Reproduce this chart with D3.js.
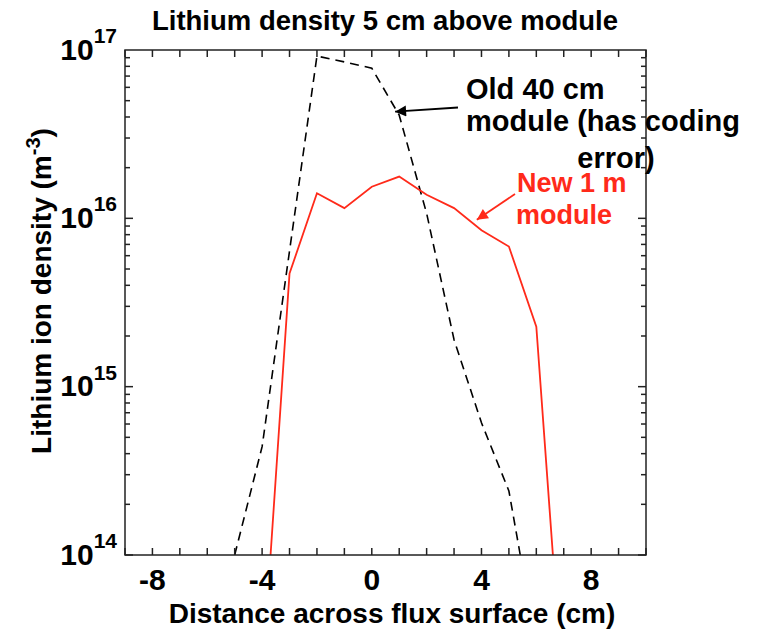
<!DOCTYPE html>
<html>
<head>
<meta charset="utf-8">
<script src="https://cdn.jsdelivr.net/npm/d3@7"></script>
<style>
  html, body { margin: 0; padding: 0; background: #fff; }
  svg { display: block; font-family: "Liberation Sans", Arial, Helvetica, sans-serif; font-weight: bold; }
</style>
</head>
<body>
<svg id="chart" width="772" height="633" viewBox="0 0 772 633"></svg>
<script>
// --- Data ---
const xOld = [-5, -4, -3, -2, -1, 0, 1, 2, 3, 4, 5, 6];
const densityOld = [1.0e14, 4.4e14, 6.4e15, 9.2e16, 8.5e16, 7.8e16, 4.1e16, 1.07e16, 1.9e15, 6.1e14, 2.4e14, 2.9e13];

const xNew = [-4, -3, -2, -1, 0, 1, 2, 3, 4, 5, 6, 7];
const densityNew = [1.8e13, 4.7e15, 1.41e16, 1.15e16, 1.54e16, 1.77e16, 1.38e16, 1.15e16, 8.5e15, 6.8e15, 2.27e15, 1.3e13];

const xTickLabels = [-8, -4, 0, 4, 8];
const yDecades = [14, 15, 16, 17];

const titleText = "Lithium density 5 cm above module";
const xTitle = "Distance across flux surface (cm)";

// --- Layout ---
const svg = d3.select("#chart");
const plot = { left: 125, right: 646, top: 50, bottom: 555 };
const red = "#ff2a1a";
const axisColor = "#222";

const x = d3.scaleLinear().domain([-9, 10]).range([plot.left, plot.right]);
const y = d3.scaleLog().domain([1e14, 1e17]).range([plot.bottom, plot.top]);

svg.append("defs").append("clipPath").attr("id", "plot-clip")
  .append("rect")
  .attr("x", plot.left).attr("y", plot.top)
  .attr("width", plot.right - plot.left).attr("height", plot.bottom - plot.top);

// arrow heads
const defs = svg.select("defs");
[["head-black", "#000"], ["head-red", red]].forEach(([id, col]) => {
  defs.append("marker")
    .attr("id", id)
    .attr("viewBox", "0 -5 10 10")
    .attr("refX", 10).attr("refY", 0)
    .attr("markerUnits", "userSpaceOnUse")
    .attr("markerWidth", 17).attr("markerHeight", 11)
    .attr("orient", "auto")
    .append("path").attr("d", "M0,-5L10,0L0,5Z").attr("fill", col);
});

// --- Lines ---
const line = d3.line().x(d => x(d[0])).y(d => y(d[1]));
const lines = svg.append("g").attr("clip-path", "url(#plot-clip)");

lines.append("path")
  .datum(d3.zip(xOld, densityOld))
  .attr("d", line)
  .attr("fill", "none")
  .attr("stroke", "#000")
  .attr("stroke-width", 1.6)
  .attr("stroke-dasharray", "9,6");

lines.append("path")
  .datum(d3.zip(xNew, densityNew))
  .attr("d", line)
  .attr("fill", "none")
  .attr("stroke", red)
  .attr("stroke-width", 1.8);

// --- Axes frame and ticks ---
const axes = svg.append("g").attr("stroke", axisColor).attr("stroke-width", 1.5);
axes.append("rect")
  .attr("x", plot.left).attr("y", plot.top)
  .attr("width", plot.right - plot.left).attr("height", plot.bottom - plot.top)
  .attr("fill", "none");

const xTicks = d3.range(-9, 11);
xTicks.forEach(t => {
  axes.append("line").attr("x1", x(t)).attr("x2", x(t)).attr("y1", plot.bottom).attr("y2", plot.bottom - 7);
  axes.append("line").attr("x1", x(t)).attr("x2", x(t)).attr("y1", plot.top).attr("y2", plot.top + 7);
});

yDecades.slice(0, -1).forEach(e => {
  for (let m = 1; m <= 9; m++) {
    const v = m * Math.pow(10, e);
    const len = m === 1 ? 8 : 5;
    axes.append("line").attr("x1", plot.left).attr("x2", plot.left + len).attr("y1", y(v)).attr("y2", y(v));
    axes.append("line").attr("x1", plot.right).attr("x2", plot.right - len).attr("y1", y(v)).attr("y2", y(v));
  }
});

// x tick labels
svg.append("g").selectAll("text")
  .data(xTickLabels)
  .join("text")
  .attr("x", d => x(d))
  .attr("y", 590)
  .attr("text-anchor", "middle")
  .style("font-size", "30px")
  .text(d => d);

// y tick labels 10^n
const yLab = svg.append("g").selectAll("text")
  .data(yDecades)
  .join("text")
  .attr("x", 117)
  .attr("y", d => y(Math.pow(10, d)) + 9.5)
  .attr("text-anchor", "end")
  .style("font-size", "30px");
yLab.append("tspan").text("10");
yLab.append("tspan").attr("dy", -16.5).style("font-size", "21px").text(d => d);

// --- Titles ---
svg.append("text")
  .attr("x", 385).attr("y", 30)
  .attr("text-anchor", "middle")
  .style("font-size", "27.5px")
  .text(titleText);

svg.append("text")
  .attr("x", 392).attr("y", 623)
  .attr("text-anchor", "middle")
  .style("font-size", "28px")
  .text(xTitle);

const yt = svg.append("text")
  .attr("transform", "translate(51,291) rotate(-90)")
  .attr("text-anchor", "middle")
  .style("font-size", "28px");
yt.append("tspan").text("Lithium ion density (m");
yt.append("tspan").attr("dy", -11).style("font-size", "20px").text("-3");
yt.append("tspan").attr("dy", 11).text(")");

// --- Annotations ---
const oldTip = [0.85, 4.3e16];
const newTip = [3.83, 9.8e15];

svg.append("line")
  .attr("x1", 458).attr("y1", 107.5)
  .attr("x2", x(oldTip[0])).attr("y2", y(oldTip[1]))
  .attr("stroke", "#000").attr("stroke-width", 1.8)
  .attr("marker-end", "url(#head-black)");

svg.append("line")
  .attr("x1", 515).attr("y1", 194)
  .attr("x2", x(newTip[0])).attr("y2", y(newTip[1]))
  .attr("stroke", red).attr("stroke-width", 1.8)
  .attr("marker-end", "url(#head-red)");

const note = svg.append("g").style("font-size", "29px").attr("fill", "#000");
note.append("text").attr("x", 466).attr("y", 99).text("Old 40 cm");
note.append("text").attr("x", 466).attr("y", 131).text("module (has coding");
note.append("text").attr("x", 616).attr("y", 168).attr("text-anchor", "middle").text("error)");

const noteRed = svg.append("g").style("font-size", "27px").attr("fill", red);
noteRed.append("text").attr("x", 517).attr("y", 192).text("New 1 m");
noteRed.append("text").attr("x", 516).attr("y", 224).text("module");
</script>
</body>
</html>
